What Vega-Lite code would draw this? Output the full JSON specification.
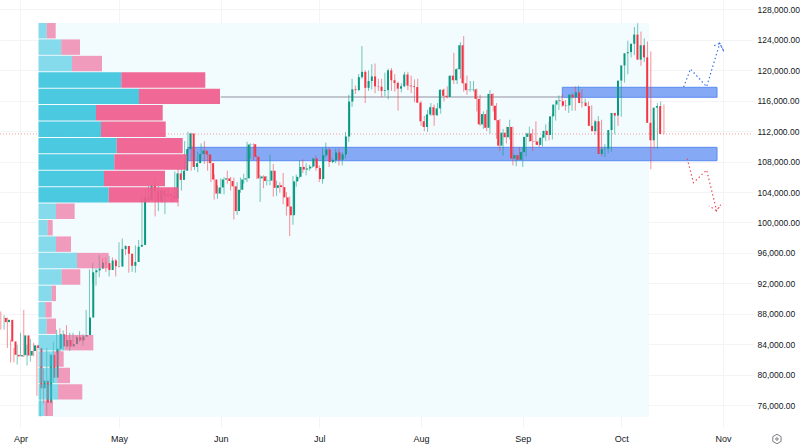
{
  "$schema": "https://vega.github.io/schema/vega-lite/v6.json",
  "description": "BTC daily candles with a volume profile, two price zones and projected paths.",
  "width": 753,
  "height": 427,
  "autosize": "none",
  "padding": {"left": 0, "top": 0, "right": 47, "bottom": 21},
  "background": "#ffffff",
  "config": {
    "view": {"stroke": null},
    "axis": {"labelFont": "Liberation Sans", "labelColor": "#131722", "labelFontSize": 8.5, "domain": false, "ticks": false, "title": null, "gridColor": "#f3f4f6", "gridWidth": 1}
  },
  "datasets": {
    "candles": [
      {"date":"2025-03-26","open":87450,"high":88300,"low":85900,"close":86900},
      {"date":"2025-03-27","open":86900,"high":87800,"low":85900,"close":87200},
      {"date":"2025-03-28","open":87200,"high":87500,"low":83500,"close":84350},
      {"date":"2025-03-29","open":84350,"high":84600,"low":81600,"close":82600},
      {"date":"2025-03-30","open":82600,"high":83500,"low":81600,"close":82390},
      {"date":"2025-03-31","open":82390,"high":83900,"low":81300,"close":82550},
      {"date":"2025-04-01","open":82550,"high":85500,"low":82400,"close":85150},
      {"date":"2025-04-02","open":85150,"high":88500,"low":82300,"close":82500},
      {"date":"2025-04-03","open":82500,"high":83900,"low":81200,"close":83100},
      {"date":"2025-04-04","open":83100,"high":84700,"low":81700,"close":83850},
      {"date":"2025-04-05","open":83850,"high":84200,"low":82400,"close":83500},
      {"date":"2025-04-06","open":83500,"high":83800,"low":77200,"close":78200},
      {"date":"2025-04-07","open":78200,"high":81200,"low":74500,"close":79200},
      {"date":"2025-04-08","open":79200,"high":80800,"low":76200,"close":76300},
      {"date":"2025-04-09","open":76300,"high":83500,"low":74600,"close":82600},
      {"date":"2025-04-10","open":82600,"high":82700,"low":78500,"close":79600},
      {"date":"2025-04-11","open":79600,"high":84300,"low":78900,"close":83400},
      {"date":"2025-04-12","open":83400,"high":85900,"low":82800,"close":85300},
      {"date":"2025-04-13","open":85300,"high":86100,"low":83000,"close":83700},
      {"date":"2025-04-14","open":83700,"high":85800,"low":83200,"close":84550},
      {"date":"2025-04-15","open":84550,"high":86500,"low":83600,"close":83700},
      {"date":"2025-04-16","open":83700,"high":85500,"low":83100,"close":84000},
      {"date":"2025-04-17","open":84000,"high":85500,"low":83800,"close":84900},
      {"date":"2025-04-18","open":84900,"high":85100,"low":84100,"close":84500},
      {"date":"2025-04-19","open":84500,"high":85700,"low":84300,"close":85000},
      {"date":"2025-04-20","open":85000,"high":85300,"low":83800,"close":85200},
      {"date":"2025-04-21","open":85200,"high":88500,"low":85100,"close":87500},
      {"date":"2025-04-22","open":87500,"high":93800,"low":87100,"close":93450},
      {"date":"2025-04-23","open":93450,"high":94700,"low":92000,"close":93700},
      {"date":"2025-04-24","open":93700,"high":94000,"low":91700,"close":93950},
      {"date":"2025-04-25","open":93950,"high":95700,"low":92800,"close":94700},
      {"date":"2025-04-26","open":94700,"high":95300,"low":93900,"close":94650},
      {"date":"2025-04-27","open":94650,"high":95400,"low":93500,"close":93750},
      {"date":"2025-04-28","open":93750,"high":95600,"low":92900,"close":95000},
      {"date":"2025-04-29","open":95000,"high":95400,"low":93800,"close":94250},
      {"date":"2025-04-30","open":94250,"high":95200,"low":92900,"close":94200},
      {"date":"2025-05-01","open":94200,"high":97400,"low":94100,"close":96500},
      {"date":"2025-05-02","open":96500,"high":97900,"low":96300,"close":96900},
      {"date":"2025-05-03","open":96900,"high":97000,"low":95700,"close":95900},
      {"date":"2025-05-04","open":95900,"high":96300,"low":93400,"close":94300},
      {"date":"2025-05-05","open":94300,"high":95200,"low":93500,"close":94800},
      {"date":"2025-05-06","open":94800,"high":97000,"low":93400,"close":96800},
      {"date":"2025-05-07","open":96800,"high":97700,"low":95800,"close":97050},
      {"date":"2025-05-08","open":97050,"high":103600,"low":97050,"close":103250},
      {"date":"2025-05-09","open":103250,"high":104300,"low":102400,"close":102970},
      {"date":"2025-05-10","open":102970,"high":104900,"low":102800,"close":104800},
      {"date":"2025-05-11","open":104800,"high":104900,"low":103400,"close":104100},
      {"date":"2025-05-12","open":104100,"high":105800,"low":100800,"close":102800},
      {"date":"2025-05-13","open":102800,"high":104800,"low":101500,"close":104150},
      {"date":"2025-05-14","open":104150,"high":104400,"low":102600,"close":103500},
      {"date":"2025-05-15","open":103500,"high":104100,"low":101100,"close":103750},
      {"date":"2025-05-16","open":103750,"high":104500,"low":103100,"close":103500},
      {"date":"2025-05-17","open":103500,"high":103700,"low":102700,"close":103150},
      {"date":"2025-05-18","open":103150,"high":106700,"low":103100,"close":106450},
      {"date":"2025-05-19","open":106450,"high":107100,"low":102100,"close":105600},
      {"date":"2025-05-20","open":105600,"high":107300,"low":104200,"close":106800},
      {"date":"2025-05-21","open":106800,"high":110700,"low":106100,"close":109650},
      {"date":"2025-05-22","open":109650,"high":111950,"low":109300,"close":111700},
      {"date":"2025-05-23","open":111700,"high":111800,"low":106800,"close":107300},
      {"date":"2025-05-24","open":107300,"high":109500,"low":106900,"close":107800},
      {"date":"2025-05-25","open":107800,"high":109300,"low":106600,"close":109000},
      {"date":"2025-05-26","open":109000,"high":110400,"low":108900,"close":109450},
      {"date":"2025-05-27","open":109450,"high":110700,"low":107700,"close":108950},
      {"date":"2025-05-28","open":108950,"high":109300,"low":106800,"close":107800},
      {"date":"2025-05-29","open":107800,"high":108900,"low":105300,"close":105650},
      {"date":"2025-05-30","open":105650,"high":106300,"low":103000,"close":103800},
      {"date":"2025-05-31","open":103800,"high":104900,"low":103100,"close":104600},
      {"date":"2025-06-01","open":104600,"high":105800,"low":103800,"close":105650},
      {"date":"2025-06-02","open":105650,"high":105950,"low":103700,"close":105800},
      {"date":"2025-06-03","open":105800,"high":106800,"low":105100,"close":105450},
      {"date":"2025-06-04","open":105450,"high":106000,"low":104200,"close":104750},
      {"date":"2025-06-05","open":104750,"high":105900,"low":100400,"close":101500},
      {"date":"2025-06-06","open":101500,"high":105300,"low":101000,"close":104300},
      {"date":"2025-06-07","open":104300,"high":105900,"low":103900,"close":105650},
      {"date":"2025-06-08","open":105650,"high":106400,"low":105100,"close":105800},
      {"date":"2025-06-09","open":105800,"high":110600,"low":105300,"close":110250},
      {"date":"2025-06-10","open":110250,"high":110400,"low":108400,"close":110280},
      {"date":"2025-06-11","open":110280,"high":110400,"low":108200,"close":108650},
      {"date":"2025-06-12","open":108650,"high":108800,"low":105700,"close":105800},
      {"date":"2025-06-13","open":105800,"high":106200,"low":102700,"close":106050},
      {"date":"2025-06-14","open":106050,"high":106200,"low":104500,"close":105450},
      {"date":"2025-06-15","open":105450,"high":106100,"low":104900,"close":105500},
      {"date":"2025-06-16","open":105500,"high":108900,"low":104900,"close":106800},
      {"date":"2025-06-17","open":106800,"high":107700,"low":103400,"close":104550},
      {"date":"2025-06-18","open":104550,"high":105500,"low":103500,"close":104900},
      {"date":"2025-06-19","open":104900,"high":105300,"low":103900,"close":104650},
      {"date":"2025-06-20","open":104650,"high":106500,"low":102400,"close":103300},
      {"date":"2025-06-21","open":103300,"high":104000,"low":100900,"close":102100},
      {"date":"2025-06-22","open":102100,"high":103400,"low":98200,"close":100950},
      {"date":"2025-06-23","open":100950,"high":106100,"low":99700,"close":105400},
      {"date":"2025-06-24","open":105400,"high":106300,"low":104700,"close":106000},
      {"date":"2025-06-25","open":106000,"high":108200,"low":105800,"close":107300},
      {"date":"2025-06-26","open":107300,"high":108300,"low":106500,"close":106950},
      {"date":"2025-06-27","open":106950,"high":107800,"low":106200,"close":107100},
      {"date":"2025-06-28","open":107100,"high":107600,"low":106800,"close":107350},
      {"date":"2025-06-29","open":107350,"high":108500,"low":107200,"close":108400},
      {"date":"2025-06-30","open":108400,"high":108800,"low":106800,"close":107150},
      {"date":"2025-07-01","open":107150,"high":107500,"low":105300,"close":105700},
      {"date":"2025-07-02","open":105700,"high":109800,"low":105100,"close":108850},
      {"date":"2025-07-03","open":108850,"high":110500,"low":108600,"close":109600},
      {"date":"2025-07-04","open":109600,"high":109800,"low":107300,"close":107950},
      {"date":"2025-07-05","open":107950,"high":108400,"low":107800,"close":108200},
      {"date":"2025-07-06","open":108200,"high":109700,"low":107800,"close":109200},
      {"date":"2025-07-07","open":109200,"high":109700,"low":107500,"close":108250},
      {"date":"2025-07-08","open":108250,"high":109200,"low":107500,"close":108950},
      {"date":"2025-07-09","open":108950,"high":111900,"low":108400,"close":111300},
      {"date":"2025-07-10","open":111300,"high":116800,"low":110600,"close":115900},
      {"date":"2025-07-11","open":115900,"high":118900,"low":115200,"close":117500},
      {"date":"2025-07-12","open":117500,"high":118000,"low":116900,"close":117400},
      {"date":"2025-07-13","open":117400,"high":119500,"low":117300,"close":119100},
      {"date":"2025-07-14","open":119100,"high":123200,"low":118900,"close":119800},
      {"date":"2025-07-15","open":119800,"high":120000,"low":115700,"close":117700},
      {"date":"2025-07-16","open":117700,"high":120000,"low":117300,"close":118600},
      {"date":"2025-07-17","open":118600,"high":120800,"low":117500,"close":119200},
      {"date":"2025-07-18","open":119200,"high":120900,"low":117000,"close":117900},
      {"date":"2025-07-19","open":117900,"high":118900,"low":117300,"close":117850},
      {"date":"2025-07-20","open":117850,"high":118900,"low":116500,"close":117300},
      {"date":"2025-07-21","open":117300,"high":119700,"low":116600,"close":117400},
      {"date":"2025-07-22","open":117400,"high":120200,"low":116200,"close":120000},
      {"date":"2025-07-23","open":120000,"high":120300,"low":117300,"close":118700},
      {"date":"2025-07-24","open":118700,"high":119500,"low":117200,"close":118350},
      {"date":"2025-07-25","open":118350,"high":118500,"low":114700,"close":117600},
      {"date":"2025-07-26","open":117600,"high":118300,"low":117100,"close":117900},
      {"date":"2025-07-27","open":117900,"high":119800,"low":117800,"close":119450},
      {"date":"2025-07-28","open":119450,"high":119800,"low":117400,"close":118000},
      {"date":"2025-07-29","open":118000,"high":119300,"low":117000,"close":117900},
      {"date":"2025-07-30","open":117900,"high":118800,"low":115800,"close":117800},
      {"date":"2025-07-31","open":117800,"high":118900,"low":115700,"close":115750},
      {"date":"2025-08-01","open":115750,"high":116000,"low":112700,"close":113300},
      {"date":"2025-08-02","open":113300,"high":114000,"low":112000,"close":112550},
      {"date":"2025-08-03","open":112550,"high":114800,"low":111900,"close":114200},
      {"date":"2025-08-04","open":114200,"high":115700,"low":114000,"close":115150},
      {"date":"2025-08-05","open":115150,"high":115500,"low":112700,"close":114100},
      {"date":"2025-08-06","open":114100,"high":115700,"low":114000,"close":115000},
      {"date":"2025-08-07","open":115000,"high":117500,"low":114300,"close":117450},
      {"date":"2025-08-08","open":117450,"high":117600,"low":115900,"close":116650},
      {"date":"2025-08-09","open":116650,"high":117900,"low":116300,"close":116500},
      {"date":"2025-08-10","open":116500,"high":119300,"low":116500,"close":119300},
      {"date":"2025-08-11","open":119300,"high":122300,"low":118200,"close":118700},
      {"date":"2025-08-12","open":118700,"high":120300,"low":118200,"close":120150},
      {"date":"2025-08-13","open":120150,"high":123700,"low":118900,"close":123300},
      {"date":"2025-08-14","open":123300,"high":124500,"low":117200,"close":118300},
      {"date":"2025-08-15","open":118300,"high":119300,"low":116800,"close":117400},
      {"date":"2025-08-16","open":117400,"high":118600,"low":117200,"close":117450},
      {"date":"2025-08-17","open":117450,"high":118600,"low":117200,"close":117500},
      {"date":"2025-08-18","open":117500,"high":117600,"low":114600,"close":116250},
      {"date":"2025-08-19","open":116250,"high":116800,"low":112700,"close":112900},
      {"date":"2025-08-20","open":112900,"high":114600,"low":112300,"close":114250},
      {"date":"2025-08-21","open":114250,"high":114800,"low":112000,"close":112450},
      {"date":"2025-08-22","open":112450,"high":117400,"low":111700,"close":116900},
      {"date":"2025-08-23","open":116900,"high":117000,"low":114600,"close":115350},
      {"date":"2025-08-24","open":115350,"high":115700,"low":111000,"close":113450},
      {"date":"2025-08-25","open":113450,"high":113600,"low":109400,"close":110100},
      {"date":"2025-08-26","open":110100,"high":112300,"low":108800,"close":111800},
      {"date":"2025-08-27","open":111800,"high":112600,"low":110400,"close":111200},
      {"date":"2025-08-28","open":111200,"high":113500,"low":110900,"close":112550},
      {"date":"2025-08-29","open":112550,"high":112600,"low":107500,"close":108400},
      {"date":"2025-08-30","open":108400,"high":108900,"low":107400,"close":108850},
      {"date":"2025-08-31","open":108850,"high":109900,"low":108200,"close":108250},
      {"date":"2025-09-01","open":108250,"high":109900,"low":107300,"close":109250},
      {"date":"2025-09-02","open":109250,"high":111800,"low":108700,"close":111250},
      {"date":"2025-09-03","open":111250,"high":112600,"low":110600,"close":111700},
      {"date":"2025-09-04","open":111700,"high":112300,"low":109400,"close":110700},
      {"date":"2025-09-05","open":110700,"high":113300,"low":110200,"close":110650},
      {"date":"2025-09-06","open":110650,"high":110900,"low":109900,"close":110200},
      {"date":"2025-09-07","open":110200,"high":111600,"low":110000,"close":111150},
      {"date":"2025-09-08","open":111150,"high":112900,"low":110700,"close":112050},
      {"date":"2025-09-09","open":112050,"high":113200,"low":110800,"close":111500},
      {"date":"2025-09-10","open":111500,"high":114300,"low":110900,"close":113950},
      {"date":"2025-09-11","open":113950,"high":115500,"low":113400,"close":115500},
      {"date":"2025-09-12","open":115500,"high":116700,"low":114800,"close":116050},
      {"date":"2025-09-13","open":116050,"high":116800,"low":115200,"close":115950},
      {"date":"2025-09-14","open":115950,"high":116100,"low":114700,"close":115350},
      {"date":"2025-09-15","open":115350,"high":116800,"low":114400,"close":115400},
      {"date":"2025-09-16","open":115400,"high":117000,"low":114700,"close":116800},
      {"date":"2025-09-17","open":116800,"high":117900,"low":114700,"close":116450},
      {"date":"2025-09-18","open":116450,"high":118000,"low":116200,"close":117100},
      {"date":"2025-09-19","open":117100,"high":117500,"low":115100,"close":115700},
      {"date":"2025-09-20","open":115700,"high":116300,"low":115400,"close":115750},
      {"date":"2025-09-21","open":115750,"high":115900,"low":115200,"close":115300},
      {"date":"2025-09-22","open":115300,"high":115400,"low":112000,"close":112700},
      {"date":"2025-09-23","open":112700,"high":113500,"low":111500,"close":112000},
      {"date":"2025-09-24","open":112000,"high":114000,"low":111100,"close":113300},
      {"date":"2025-09-25","open":113300,"high":113500,"low":108700,"close":109000},
      {"date":"2025-09-26","open":109000,"high":110300,"low":108600,"close":109650},
      {"date":"2025-09-27","open":109650,"high":109800,"low":109100,"close":109700},
      {"date":"2025-09-28","open":109700,"high":112400,"low":109300,"close":112150},
      {"date":"2025-09-29","open":112150,"high":114400,"low":111600,"close":114400},
      {"date":"2025-09-30","open":114400,"high":114800,"low":112700,"close":114050},
      {"date":"2025-10-01","open":114050,"high":118700,"low":113900,"close":118650},
      {"date":"2025-10-02","open":118650,"high":121000,"low":118400,"close":120650},
      {"date":"2025-10-03","open":120650,"high":123900,"low":119500,"close":122250},
      {"date":"2025-10-04","open":122250,"high":122900,"low":121700,"close":122400},
      {"date":"2025-10-05","open":122400,"high":125700,"low":122000,"close":123500},
      {"date":"2025-10-06","open":123500,"high":126200,"low":123000,"close":124700},
      {"date":"2025-10-07","open":124700,"high":125100,"low":120600,"close":121400},
      {"date":"2025-10-08","open":121400,"high":124200,"low":121100,"close":123300},
      {"date":"2025-10-09","open":123300,"high":123800,"low":119600,"close":121700},
      {"date":"2025-10-10","open":121700,"high":122500,"low":107000,"close":113100},
      {"date":"2025-10-11","open":113100,"high":113500,"low":109700,"close":110800},
      {"date":"2025-10-12","open":110800,"high":115700,"low":109700,"close":115100},
      {"date":"2025-10-13","open":115100,"high":115900,"low":113500,"close":115300},
      {"date":"2025-10-14","open":115300,"high":115500,"low":111600,"close":111630}
    ],
    "profile": [
      {"high":126225,"low":124197,"base":0,"buy":8.2,"total":17.2,"zone":"outer"},
      {"high":124067,"low":122038,"base":0,"buy":22.8,"total":41.5,"zone":"outer"},
      {"high":121908,"low":119880,"base":0,"buy":33.5,"total":63.5,"zone":"outer"},
      {"high":119750,"low":117721,"base":0,"buy":82.8,"total":166.8,"zone":"value"},
      {"high":117591,"low":115563,"base":0,"buy":100.5,"total":181.5,"zone":"value"},
      {"high":115433,"low":113404,"base":0,"buy":57.5,"total":124.2,"zone":"value"},
      {"high":113274,"low":111246,"base":0,"buy":62.5,"total":127.2,"zone":"value"},
      {"high":111116,"low":109087,"base":0,"buy":78.2,"total":144.2,"zone":"value"},
      {"high":108957,"low":106929,"base":0,"buy":75.8,"total":148.5,"zone":"value"},
      {"high":106799,"low":104770,"base":0,"buy":65.5,"total":126.5,"zone":"value"},
      {"high":104640,"low":102612,"base":0,"buy":70.2,"total":139.8,"zone":"value"},
      {"high":102482,"low":100453,"base":0,"buy":17.5,"total":36.2,"zone":"outer"},
      {"high":100323,"low":98295,"base":0,"buy":9.2,"total":14.2,"zone":"outer"},
      {"high":98165,"low":96136,"base":0,"buy":17.5,"total":32.5,"zone":"outer"},
      {"high":96006,"low":93978,"base":0,"buy":38.5,"total":70.2,"zone":"outer"},
      {"high":93848,"low":91819,"base":0,"buy":23.2,"total":41.8,"zone":"outer"},
      {"high":91689,"low":89661,"base":0,"buy":13.2,"total":17.5,"zone":"outer"},
      {"high":89531,"low":87502,"base":0,"buy":6.8,"total":13.2,"zone":"outer"},
      {"high":87372,"low":85344,"base":0,"buy":8.2,"total":17.5,"zone":"outer"},
      {"high":85214,"low":83185,"base":0,"buy":26,"total":54.8,"zone":"outer"},
      {"high":83055,"low":81027,"base":0,"buy":15.5,"total":25.2,"zone":"outer"},
      {"high":80897,"low":78868,"base":0,"buy":18.8,"total":31.5,"zone":"outer"},
      {"high":78738,"low":76710,"base":0,"buy":19.5,"total":43.8,"zone":"outer"},
      {"high":76580,"low":74552,"base":0,"buy":5.8,"total":14.5,"zone":"outer"}
    ],
    "paths": [
      {"path":"up","order":1,"date":"2025-10-20T00:00:00Z","price":117810},
      {"path":"up","order":2,"date":"2025-10-22T02:00:00Z","price":120177},
      {"path":"up","order":3,"date":"2025-10-27T00:00:00Z","price":117850},
      {"path":"up","order":4,"date":"2025-10-31T00:00:00Z","price":123556},
      {"path":"up","order":5,"date":"2025-11-01T07:00:00Z","price":122450},
      {"path":"up","order":6,"date":"2025-10-31T00:00:00Z","price":123556},
      {"path":"up","order":7,"date":"2025-10-29T07:00:00Z","price":123240},
      {"path":"down","order":1,"date":"2025-10-21T02:00:00Z","price":108384},
      {"path":"down","order":2,"date":"2025-10-23T00:00:00Z","price":105229},
      {"path":"down","order":3,"date":"2025-10-27T00:00:00Z","price":106898},
      {"path":"down","order":4,"date":"2025-10-30T01:00:00Z","price":101547},
      {"path":"down","order":5,"date":"2025-10-31T07:00:00Z","price":102336},
      {"path":"down","order":6,"date":"2025-10-30T01:00:00Z","price":101547},
      {"path":"down","order":7,"date":"2025-10-27T17:00:00Z","price":102165}
    ]
  },
  "layer": [
    {
      "data": {"values": [{"start":"2025-04-06T11:30:00Z","end":"2025-10-09T10:30:00Z","low":74420,"high":126225}]},
      "mark": {"type":"rect","color":"#f2fbfe"},
      "encoding": {
        "x": {"field":"start","type":"temporal","scale":{"type":"utc","domain":["2025-03-25T18:09:00Z","2025-11-10T03:00:00Z"]},
          "axis":{"values":["2025-04-01T00:00:00Z","2025-05-01T00:00:00Z","2025-06-01T00:00:00Z","2025-07-01T00:00:00Z","2025-08-01T00:00:00Z","2025-09-01T00:00:00Z","2025-10-01T00:00:00Z","2025-11-01T00:00:00Z"],"format":"%b","labelPadding":7,"labelFontSize":9,"grid":true,"zindex":0}},
        "x2": {"field":"end"},
        "y": {"field":"low","type":"quantitative","scale":{"domain":[73109,129249],"nice":false,"zero":false},
          "axis":{"orient":"right","values":[76000,80000,84000,88000,92000,96000,100000,104000,108000,112000,116000,120000,124000,128000],"format":",.2f","labelPadding":4,"grid":true,"zindex":0}},
        "y2": {"field":"high"}
      }
    },
    {
      "data": {"values": [{"from":"2025-06-01T00:00:00Z","to":"2025-09-13T01:00:00Z","level":116496}]},
      "mark": {"type":"rule","color":"#b2b5be","strokeWidth":1.4},
      "encoding": {
        "x": {"field":"from","type":"temporal","scale":{"type":"utc","domain":["2025-03-25T18:09:00Z","2025-11-10T03:00:00Z"]},"axis":null},
        "x2": {"field":"to"},
        "y": {"field":"level","type":"quantitative","axis":null}
      }
    },
    {
      "data": {"values": [{"from":"2025-03-25T18:09:00Z","to":"2025-11-10T03:00:00Z","level":111630}]},
      "mark": {"type":"rule","color":"#ef9a9a","strokeWidth":1,"strokeDash":[1,2]},
      "encoding": {
        "x": {"field":"from","type":"temporal","scale":{"type":"utc","domain":["2025-03-25T18:09:00Z","2025-11-10T03:00:00Z"]},"axis":null},
        "x2": {"field":"to"},
        "y": {"field":"level","type":"quantitative","axis":null}
      }
    },
    {
      "data": {"values": [
        {"start":"2025-09-13T01:00:00Z","end":"2025-10-30T04:00:00Z","low":116457,"high":117770},
        {"start":"2025-05-22T00:00:00Z","end":"2025-10-30T04:00:00Z","low":108120,"high":109880}
      ]},
      "mark": {"type":"rect","fill":"#85a9f5","stroke":"#5b8cf0","strokeWidth":1},
      "encoding": {
        "x": {"field":"start","type":"temporal","scale":{"type":"utc","domain":["2025-03-25T18:09:00Z","2025-11-10T03:00:00Z"]},"axis":null},
        "x2": {"field":"end"},
        "y": {"field":"low","type":"quantitative","axis":null},
        "y2": {"field":"high"}
      }
    },
    {
      "data": {"name":"candles"},
      "mark": {"type":"rule","strokeWidth":1,"opacity":0.55},
      "encoding": {
        "x": {"field":"date","type":"temporal","scale":{"type":"utc","domain":["2025-03-25T18:09:00Z","2025-11-10T03:00:00Z"]},"axis":null},
        "y": {"field":"low","type":"quantitative","axis":null},
        "y2": {"field":"high"},
        "color": {"condition":{"test":"datum.close >= datum.open","value":"#089981"},"value":"#f23645"}
      }
    },
    {
      "data": {"name":"candles"},
      "mark": {"type":"bar","size":2},
      "encoding": {
        "x": {"field":"date","type":"temporal","scale":{"type":"utc","domain":["2025-03-25T18:09:00Z","2025-11-10T03:00:00Z"]},"axis":null},
        "y": {"field":"open","type":"quantitative","axis":null},
        "y2": {"field":"close"},
        "color": {"condition":{"test":"datum.close >= datum.open","value":"#089981"},"value":"#f23645"}
      }
    },
    {
      "data": {"name":"paths"},
      "mark": {"type":"line","strokeWidth":1.2,"strokeDash":[1.5,2.5]},
      "encoding": {
        "x": {"field":"date","type":"temporal","scale":{"type":"utc","domain":["2025-03-25T18:09:00Z","2025-11-10T03:00:00Z"]},"axis":null},
        "y": {"field":"price","type":"quantitative","axis":null},
        "order": {"field":"order"},
        "color": {"field":"path","type":"nominal","scale":{"domain":["up","down"],"range":["#3f74e8","#e8505b"]},"legend":null}
      }
    },
    {
      "data": {"name":"profile"},
      "mark": {"type":"rect","color":"#3cc4dd"},
      "encoding": {
        "x": {"field":"base","type":"quantitative","scale":{"domain":[-38.5,714.5],"nice":false,"zero":false},"axis":null},
        "x2": {"field":"buy"},
        "y": {"field":"low","type":"quantitative","axis":null},
        "y2": {"field":"high"},
        "opacity": {"field":"zone","type":"nominal","scale":{"domain":["value","outer"],"range":[0.92,0.6]},"legend":null}
      }
    },
    {
      "data": {"name":"profile"},
      "mark": {"type":"rect","color":"#ef5b8d"},
      "encoding": {
        "x": {"field":"buy","type":"quantitative","scale":{"domain":[-38.5,714.5],"nice":false,"zero":false},"axis":null},
        "x2": {"field":"total"},
        "y": {"field":"low","type":"quantitative","axis":null},
        "y2": {"field":"high"},
        "opacity": {"field":"zone","type":"nominal","scale":{"domain":["value","outer"],"range":[0.92,0.6]},"legend":null}
      }
    },
    {
      "data": {"values": [{"date":"2025-11-17T10:00:00Z","price":71530}]},
      "mark": {"type":"point","shape":"M0,-1L0.87,-0.5L0.87,0.5L0,1L-0.87,0.5L-0.87,-0.5Z","size":90,"filled":false,"color":"#131722","strokeWidth":0.8},
      "encoding": {
        "x": {"field":"date","type":"temporal","scale":{"type":"utc","domain":["2025-03-25T18:09:00Z","2025-11-10T03:00:00Z"]},"axis":null},
        "y": {"field":"price","type":"quantitative","axis":null}
      }
    },
    {
      "data": {"values": [{"date":"2025-11-17T10:00:00Z","price":71530}]},
      "mark": {"type":"point","shape":"circle","size":6,"filled":false,"color":"#131722","strokeWidth":0.8},
      "encoding": {
        "x": {"field":"date","type":"temporal","scale":{"type":"utc","domain":["2025-03-25T18:09:00Z","2025-11-10T03:00:00Z"]},"axis":null},
        "y": {"field":"price","type":"quantitative","axis":null}
      }
    }
  ],
  "resolve": {"scale": {"x": "independent"}, "axis": {"y": "independent"}}
}
